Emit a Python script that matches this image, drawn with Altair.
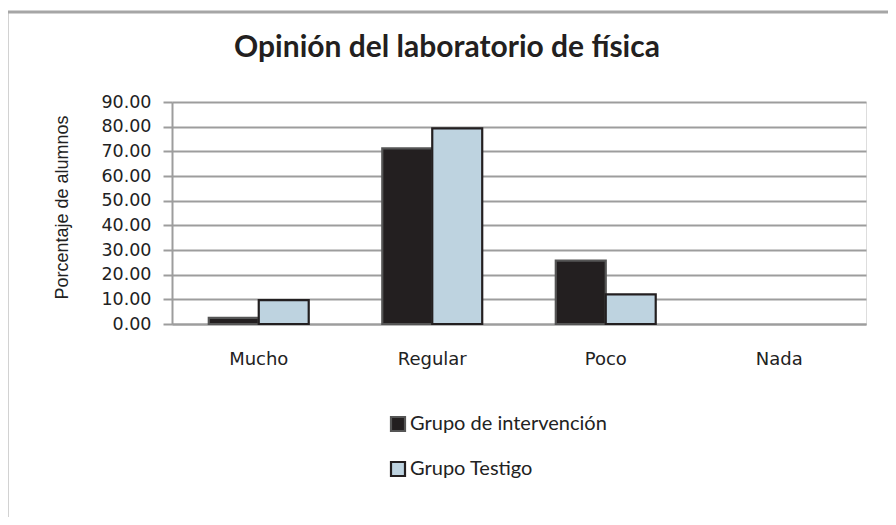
import altair as alt
import pandas as pd

categories = ["Mucho", "Regular", "Poco", "Nada"]
groups = ["Grupo de intervención", "Grupo Testigo"]
intervencion = [2.5, 71.2, 25.7, 0.0]
testigo = [9.7, 79.3, 12.0, 0.0]
y_ticks = [0, 10, 20, 30, 40, 50, 60, 70, 80, 90]
title_text = "Opinión del laboratorio de física"

rows = []
for c, a, b in zip(categories, intervencion, testigo):
    rows.append({"cat": c, "grupo": groups[0], "valor": a})
    rows.append({"cat": c, "grupo": groups[1], "valor": b})
df = pd.DataFrame(rows)

frame = alt.Chart(pd.DataFrame({"a": [0]})).mark_rect(
    fill=None, stroke="#a6a6a6", strokeWidth=3
).encode(
    x=alt.value(-165), x2=alt.value(740), y=alt.value(-90), y2=alt.value(520)
)

title = alt.Chart(pd.DataFrame({"t": [title_text]})).mark_text(
    font="Lato", fontSize=30, fontWeight="bold", color="#231f20",
    align="center", baseline="alphabetic"
).encode(text="t:N", x=alt.value(275), y=alt.value(-45))

bars = alt.Chart(df).mark_bar().encode(
    x=alt.X("cat:N", sort=categories,
            scale=alt.Scale(paddingInner=0.424, paddingOuter=0.212),
            axis=alt.Axis(title=None, labelAngle=0, ticks=False, labelPadding=26,
                          labelFont="DejaVu Sans", labelFontSize=18, labelColor="#222",
                          domainColor="#9d9d9d", domainWidth=2)),
    xOffset=alt.XOffset("grupo:N", sort=groups, scale=alt.Scale(paddingInner=0, paddingOuter=0)),
    y=alt.Y("valor:Q", scale=alt.Scale(domain=[0, 90], nice=False),
            axis=alt.Axis(title="Porcentaje de alumnos", values=y_ticks, format=".2f",
                          labelFont="DejaVu Sans", labelFontSize=17.5, labelColor="#222",
                          labelPadding=12, tickSize=9, tickColor="#9d9d9d", tickWidth=2,
                          domainColor="#9d9d9d", domainWidth=2,
                          gridColor="#9d9d9d", gridWidth=2,
                          titleFont="Liberation Sans", titleFontSize=18, titleFontWeight="normal",
                          titleColor="#222", titleAngle=-90, titleX=-110, titleY=105,
                          titleAlign="center", titleBaseline="middle")),
    color=alt.Color("grupo:N", sort=groups,
                    scale=alt.Scale(domain=groups, range=["#231f20", "#bed3e0"]),
                    legend=alt.Legend(title=None, orient="none", legendX=216, legendY=312,
                                      direction="vertical", symbolType="square", symbolSize=196,
                                      symbolStrokeWidth=2.2, rowPadding=21, labelLimit=400,
                                      labelFont="Lato", labelFontSize=20, labelColor="#222",
                                      labelOffset=2)),
    stroke=alt.Stroke("grupo:N", sort=groups,
                      scale=alt.Scale(domain=groups, range=["#555555", "#231f20"]),
                      legend=None),
    strokeWidth=alt.condition("datum.valor > 0", alt.value(2.2), alt.value(0)),
)

chart = alt.layer(frame, title, bars).properties(
    width=694, height=222,
    autosize=alt.AutoSizeParams(type="none"),
    padding={"left": 164, "top": 94, "right": 22, "bottom": 193},
).configure_view(stroke=None).configure(background="white")

chart.save("out.html", embed_options={"renderer": "svg", "actions": False})
